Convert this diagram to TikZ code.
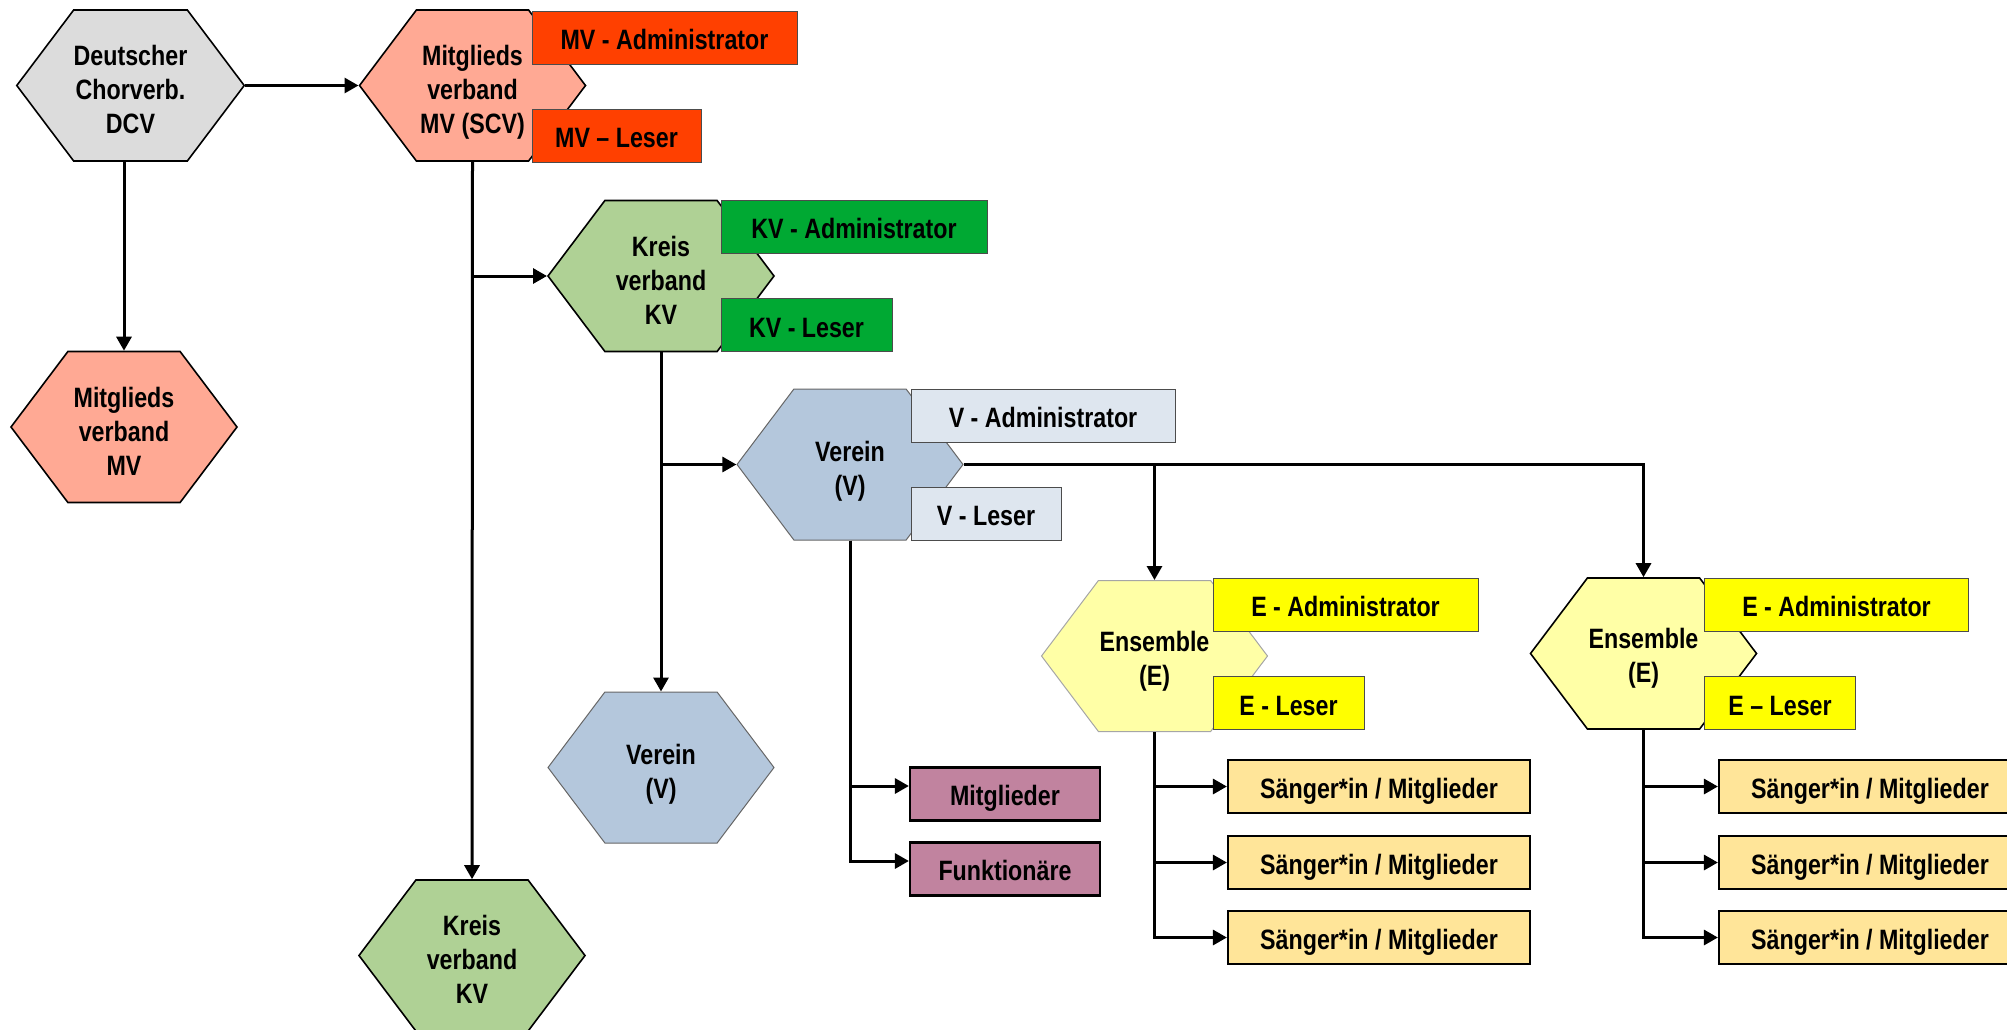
\documentclass[tikz,border=0pt]{standalone}
\usepackage{fontspec}
\usepackage{xcolor}
\usepackage{tikz}
\usetikzlibrary{shapes.symbols}
\usetikzlibrary{arrows.meta}
\usetikzlibrary{calc}

\newfontfamily\chartfont{Liberation Sans}[FakeStretch=0.83]
\newcommand{\chart}{\chartfont\bfseries\fontsize{28}{34}\selectfont}

\definecolor{dcvgray}{RGB}{220,220,220}
\definecolor{mvfill}{RGB}{255,169,148}
\definecolor{mvred}{RGB}{255,64,0}
\definecolor{kvfill}{RGB}{175,209,149}
\definecolor{kvgreen}{RGB}{0,169,51}
\definecolor{vfill}{RGB}{180,199,220}
\definecolor{vlight}{RGB}{222,230,239}
\definecolor{efill}{RGB}{255,255,166}
\definecolor{eyellow}{RGB}{255,255,0}
\definecolor{singfill}{RGB}{255,229,153}
\definecolor{mitfill}{RGB}{193,131,159}

\tikzset{
  hexa/.style={shape=signal, signal to=west and east, signal pointer angle=106,
    minimum width=226pt, minimum height=151pt, inner sep=0pt, align=center,
    draw=black, line width=1.6pt, font=\chart,
    text height=#1, text depth=0pt},
  hexa/.default=96pt,
  role/.style={rectangle, minimum height=53pt, inner sep=0pt, draw=black!70,
    line width=1pt, font=\chart, text height=24pt, text depth=0pt},
  member/.style={rectangle, minimum height=53pt, inner sep=0pt, draw=black,
    line width=2.2pt, font=\chart, text height=23pt, text depth=0pt},
  conn/.style={line width=3pt},
  arr/.style={conn, -{Triangle[length=14pt,width=15pt]}}
}

\begin{document}
\begin{tikzpicture}[x=1pt,y=-1pt]

  \useasboundingbox (0,0) rectangle (2007,1029);

  % hexagons of the federation levels
  \node[hexa, fill=dcvgray] (dcv)   at (130.5, 85.5) {Deutscher\\Chorverb.\\DCV};
  \node[hexa, fill=mvfill]  (mvscv) at (472.5, 85.5) {Mitglieds\\verband\\MV (SCV)};
  \node[hexa, fill=mvfill]  (mvlow) at (124, 427)    {Mitglieds\\verband\\MV};
  \node[hexa, fill=kvfill]  (kv)    at (661, 276)    {Kreis\\verband\\KV};
  \node[hexa, fill=kvfill]  (kvlow) at (472, 955.5)  {Kreis\\verband\\KV};
  \node[hexa=61pt, fill=vfill, draw=black!60, line width=1pt] (vrn)  at (850, 464.5) {Verein\\(V)};
  \node[hexa=61pt, fill=vfill, draw=black!60, line width=1pt] (vlow) at (661, 767.5) {Verein\\(V)};
  \node[hexa=58pt, fill=efill, draw=black!35, line width=1pt] (ens1) at (1154.5, 656) {Ensemble\\(E)};
  \node[hexa=58pt, fill=efill]   (ens2)  at (1643.5, 653.5) {Ensemble\\(E)};

  % roles next to the hexagons
  \node[role, fill=mvred, minimum width=265pt]   (mvadm) at (664.5, 37.5)  {MV - Administrator};
  \node[role, fill=mvred, minimum width=169pt]   (mvles) at (616.5, 135.5) {MV – Leser};
  \node[role, fill=kvgreen, minimum width=266pt] (kvadm) at (854, 226.5)   {KV - Administrator};
  \node[role, fill=kvgreen, minimum width=171pt] (kvles) at (806.5, 325)   {KV - Leser};
  \node[role, fill=vlight, minimum width=264pt]  (vadm)  at (1043, 415.5)  {V - Administrator};
  \node[role, fill=vlight, minimum width=150pt]  (vles)  at (986, 513.5)   {V - Leser};
  \node[role, fill=eyellow, minimum width=265pt] (e1adm) at (1345.5, 604.5) {E - Administrator};
  \node[role, fill=eyellow, minimum width=151pt] (e1les) at (1288.5, 703)   {E - Leser};
  \node[role, fill=eyellow, minimum width=264pt] (e2adm) at (1836.5, 604.5) {E - Administrator};
  \node[role, fill=eyellow, minimum width=151pt] (e2les) at (1780, 703)     {E – Leser};

  % members
  \node[member, fill=mitfill, minimum width=190pt] (mit) at (1005, 794) {Mitglieder};
  \node[member, fill=mitfill, minimum width=190pt] (fkt) at (1005, 869) {Funktionäre};
  \node[member, fill=singfill, minimum width=302pt] (s11) at (1379, 786.5) {Sänger*in / Mitglieder};
  \node[member, fill=singfill, minimum width=302pt] (s12) at (1379, 862.5) {Sänger*in / Mitglieder};
  \node[member, fill=singfill, minimum width=302pt] (s13) at (1379, 937.5) {Sänger*in / Mitglieder};
  \node[member, fill=singfill, minimum width=302pt] (s21) at (1870, 786.5) {Sänger*in / Mitglieder};
  \node[member, fill=singfill, minimum width=302pt] (s22) at (1870, 862.5) {Sänger*in / Mitglieder};
  \node[member, fill=singfill, minimum width=302pt] (s23) at (1870, 937.5) {Sänger*in / Mitglieder};

  % connectors
  \draw[arr] (dcv.east) -- (mvscv.west);
  \draw[arr] (mvlow.north |- dcv.south) -- (mvlow.north);
  \draw[arr] (mvscv.south) -- (kvlow.north);
  \draw[arr] (mvscv.south |- kv.west) -- (kv.west);
  \draw[arr] (kv.south) -- (vlow.north);
  \draw[arr] (kv.south |- vrn.west) -- (vrn.west);
  \draw[arr] (vrn.east) -| (ens2.north);
  \draw[arr] (ens1.north |- vrn.east) -- (ens1.north);
  \draw[arr] (vrn.south) |- ([yshift=8pt]mit.west);
  \draw[arr] (vrn.south) |- ([yshift=8pt]fkt.west);
  \draw[arr] (ens1.south) |- (s11.west);
  \draw[arr] (ens1.south) |- (s12.west);
  \draw[arr] (ens1.south) |- (s13.west);
  \draw[arr] (ens2.south) |- (s21.west);
  \draw[arr] (ens2.south) |- (s22.west);
  \draw[arr] (ens2.south) |- (s23.west);

\end{tikzpicture}
\end{document}
